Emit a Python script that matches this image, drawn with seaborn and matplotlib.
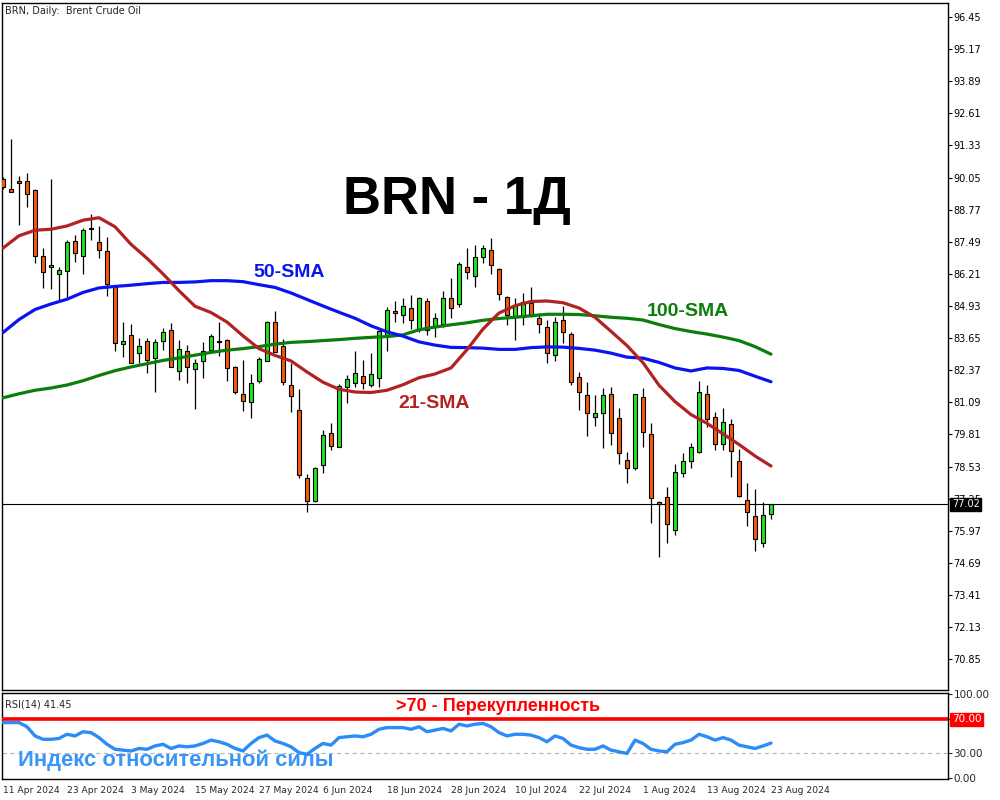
import matplotlib
matplotlib.use("Agg")
import matplotlib.pyplot as plt
import matplotlib.transforms as mtransforms
import numpy as np
import seaborn as sns

# ---- Brent daily OHLC, 11 Apr 2024 .. 23 Aug 2024 (one entry per session) ----
opens = [89.99, 89.58, 89.91, 89.91, 89.54, 86.91, 86.47, 86.22, 86.31, 87.51,
         86.91, 88.02, 87.47, 87.11, 85.70, 83.40, 83.76, 83.04, 83.52, 82.84,
         83.52, 83.96, 82.32, 83.12, 82.40, 82.72, 83.16, 83.53, 83.56, 82.48,
         81.41, 81.09, 81.95, 82.75, 84.28, 83.33, 81.77, 80.77, 78.06, 77.16,
         78.58, 79.85, 79.29, 81.71, 81.85, 82.14, 81.78, 82.04, 83.77, 84.73,
         84.57, 84.84, 83.97, 85.14, 84.10, 84.21, 85.23, 85.01, 86.47, 86.14,
         86.87, 87.16, 86.39, 85.27, 84.48, 84.48, 85.06, 84.44, 84.08, 82.96,
         84.37, 83.80, 82.08, 81.38, 80.49, 80.65, 81.42, 80.45, 78.79, 78.46,
         81.29, 79.81, 77.11, 77.30, 75.99, 78.26, 78.75, 79.09, 81.42, 80.49,
         79.43, 80.21, 78.75, 77.18, 76.55, 75.47, 76.62]
highs = [90.07, 91.59, 90.11, 90.24, 89.58, 87.23, 89.98, 86.48, 87.56, 87.75,
         88.03, 88.58, 88.12, 87.68, 85.70, 84.28, 84.20, 83.64, 83.64, 83.60,
         84.06, 84.25, 83.56, 83.36, 82.81, 83.49, 83.80, 84.28, 83.60, 82.52,
         82.77, 82.22, 82.91, 84.34, 84.73, 83.60, 82.67, 81.62, 78.23, 78.52,
         79.98, 80.26, 81.82, 82.18, 83.13, 82.77, 83.07, 83.97, 84.88, 85.13,
         85.23, 85.35, 85.30, 85.23, 84.64, 85.53, 86.06, 86.69, 87.23, 87.36,
         87.36, 87.63, 86.45, 85.33, 85.23, 85.46, 85.67, 84.66, 84.37, 84.48,
         84.93, 83.90, 82.31, 81.91, 81.38, 81.65, 81.71, 80.85, 79.12, 81.42,
         81.65, 80.27, 77.16, 77.72, 78.62, 79.05, 79.45, 81.94, 81.78, 80.71,
         80.85, 80.41, 79.21, 77.86, 77.62, 77.10, 77.05]
lows = [89.59, 89.47, 88.16, 88.89, 86.65, 85.66, 85.62, 85.13, 85.23, 86.68,
        86.22, 87.57, 86.85, 85.34, 83.14, 82.91, 82.64, 82.64, 82.24, 81.51,
        83.17, 82.48, 81.99, 81.85, 80.83, 82.04, 83.04, 82.95, 81.95, 81.43,
        80.75, 80.45, 81.87, 82.75, 83.11, 81.79, 80.71, 78.06, 76.73, 77.12,
        78.28, 79.20, 79.29, 81.05, 81.69, 81.61, 81.71, 81.69, 83.14, 84.30,
        84.26, 84.01, 83.90, 83.77, 83.68, 84.10, 84.44, 84.88, 85.99, 85.67,
        86.63, 86.19, 85.17, 84.17, 83.57, 84.17, 84.48, 83.86, 82.67, 82.75,
        83.44, 81.78, 80.78, 79.74, 80.14, 79.25, 79.38, 78.63, 77.88, 78.39,
        79.32, 76.29, 74.91, 75.47, 75.80, 78.10, 78.46, 79.05, 80.11, 79.19,
        79.19, 78.12, 77.33, 76.17, 75.17, 75.31, 76.42]
closes = [89.67, 89.48, 89.82, 89.38, 86.91, 86.27, 86.56, 86.35, 87.47, 87.03,
          87.96, 88.00, 87.17, 85.82, 83.44, 83.53, 82.67, 83.32, 82.79, 83.48,
          83.88, 82.48, 83.20, 82.48, 82.64, 83.12, 83.72, 83.49, 82.44, 81.49,
          81.13, 81.85, 82.80, 84.28, 83.11, 81.91, 81.35, 78.18, 77.16, 78.46,
          79.77, 79.33, 81.75, 82.00, 82.24, 81.87, 82.20, 83.93, 84.76, 84.64,
          84.94, 84.37, 85.23, 83.97, 84.44, 85.23, 84.84, 86.59, 86.30, 86.87,
          87.23, 86.56, 85.39, 84.57, 84.93, 85.07, 84.53, 84.21, 83.07, 84.30,
          83.88, 81.89, 81.51, 80.67, 80.65, 81.38, 79.85, 79.05, 78.48, 81.42,
          79.92, 77.26, 77.03, 76.22, 78.30, 78.75, 79.32, 81.49, 80.41, 79.43,
          80.31, 79.15, 77.36, 76.70, 75.63, 76.59, 77.02]

# ---- moving averages, sampled every second session ----
sma_step = 2
sma21 = [87.24, 87.73, 87.95, 87.99, 88.12, 88.35, 88.45, 88.09, 87.39, 86.83,
         86.21, 85.54, 84.92, 84.67, 84.29, 83.74, 83.23, 82.96, 82.74, 82.30,
         81.89, 81.61, 81.50, 81.48, 81.57, 81.79, 82.07, 82.22, 82.46, 83.19,
         84.01, 84.65, 84.94, 85.11, 85.13, 85.06, 84.85, 84.48, 83.92, 83.35,
         82.67, 81.77, 81.12, 80.60, 80.25, 79.83, 79.41, 78.95, 78.55]
sma50 = [83.87, 84.39, 84.79, 85.01, 85.20, 85.47, 85.65, 85.71, 85.76, 85.82,
         85.87, 85.87, 85.89, 85.94, 85.94, 85.90, 85.78, 85.67, 85.45, 85.19,
         84.93, 84.68, 84.44, 84.14, 83.90, 83.73, 83.50, 83.37, 83.28, 83.27,
         83.25, 83.20, 83.20, 83.27, 83.30, 83.29, 83.24, 83.17, 83.05, 82.89,
         82.85, 82.68, 82.46, 82.34, 82.46, 82.44, 82.36, 82.13, 81.91]
sma100 = [81.27, 81.43, 81.57, 81.66, 81.78, 81.95, 82.16, 82.35, 82.50, 82.63,
          82.76, 82.86, 82.97, 83.08, 83.17, 83.23, 83.31, 83.41, 83.48, 83.51,
          83.55, 83.59, 83.64, 83.68, 83.71, 83.78, 83.98, 84.09, 84.18, 84.26,
          84.36, 84.43, 84.48, 84.54, 84.60, 84.60, 84.59, 84.54, 84.48, 84.44,
          84.37, 84.19, 84.03, 83.91, 83.81, 83.69, 83.55, 83.31, 83.01]

# ---- RSI(14), one value per session ----
rsi = [66, 66, 66, 61, 50, 46, 46, 47, 52, 50,
       55, 54, 48, 40, 34, 33, 32, 35, 34, 38,
       40, 35, 38, 37, 38, 41, 45, 43, 40, 35,
       32, 41, 48, 51, 44, 41, 37, 30, 28, 35,
       41, 39, 48, 49, 50, 49, 52, 58, 60, 60,
       60, 58, 61, 55, 57, 59, 56, 64, 62, 64,
       65, 61, 54, 50, 52, 52, 51, 48, 43, 50,
       47, 39, 36, 34, 34, 38, 33, 31, 29, 45,
       41, 34, 32, 31, 40, 42, 45, 52, 49, 45,
       48, 45, 39, 37, 35, 38, 41.45]

date_labels = ["11 Apr 2024", "23 Apr 2024", "3 May 2024", "15 May 2024",
               "27 May 2024", "6 Jun 2024", "18 Jun 2024", "28 Jun 2024",
               "10 Jul 2024", "22 Jul 2024", "1 Aug 2024", "13 Aug 2024",
               "23 Aug 2024"]
price_ticks = [96.45, 95.17, 93.89, 92.61, 91.33, 90.05, 88.77, 87.49, 86.21,
               84.93, 83.65, 82.37, 81.09, 79.81, 78.53, 77.25, 75.97, 74.69,
               73.41, 72.13, 70.85]
rsi_ticks = [0, 30, 100]
last_price = 77.02
rsi_last = 41.45
overbought = 70
oversold = 30

# ---- styling ----
sns.set_style("white")
plt.rcParams["font.family"] = ["DejaVu Sans"]
BULL = "#1fe61f"
BEAR = "#f75a08"
C21 = "#b22222"
C50 = "#0a14f0"
C100 = "#0b7d0b"
BOLD = ["Liberation Sans", "DejaVu Sans"]

fig = plt.figure(figsize=(10, 8), dpi=100)
ax = fig.add_axes([0.002, 0.1375, 0.946, 0.85875])
ax_rsi = fig.add_axes([0.002, 0.02625, 0.946, 0.10713], sharex=ax)

n = len(opens)
idx = np.arange(n)
o = np.array(opens)
c = np.array(closes)
h = np.array(highs)
l = np.array(lows)

# wicks, then bodies
ax.vlines(idx, l, h, color="black", lw=0.9, zorder=2)
up = c >= o
body_lo = np.minimum(o, c)
body_h = np.maximum(np.abs(c - o), 0.02)
colors = np.where(up, BULL, BEAR)
ax.bar(idx, body_h, bottom=body_lo, width=0.6, color=colors,
       edgecolor="black", linewidth=0.8, zorder=3)

# moving averages
sma_x = np.arange(len(sma21)) * sma_step
for vals, col in ((sma100, C100), (sma50, C50), (sma21, C21)):
    sns.lineplot(x=sma_x, y=vals, ax=ax, color=col, lw=2.3, zorder=4,
                 legend=False)

# last price line and marker
ax.axhline(last_price, color="black", lw=0.8, zorder=1)
trans = mtransforms.blended_transform_factory(ax.transAxes, ax.transData)
ax.text(1.004, last_price, f"{last_price:.2f}", transform=trans, ha="left",
        va="center", color="white", fontsize=7, zorder=10,
        bbox=dict(boxstyle="square,pad=0.15", fc="black", ec="black"))

ax.set_xlim(-0.125, 118.125)
ax.set_ylim(69.62, 97.01)
ax.yaxis.tick_right()
ax.set_yticks(price_ticks)
ax.set_yticklabels([f"{v:.2f}" for v in price_ticks])
ax.tick_params(axis="y", direction="out", length=3, width=0.8, pad=1,
               labelsize=7, colors="black")
ax.tick_params(axis="x", bottom=False, labelbottom=False)
ax.set_xlabel("")
ax.set_ylabel("")
for s in ax.spines.values():
    s.set_color("black")
    s.set_linewidth(1.0)

ax.text(0.003, 0.995, "BRN, Daily:  Brent Crude Oil", transform=ax.transAxes,
        ha="left", va="top", fontsize=7)
ax.text(56.75, 89.15, "BRN - 1Д", ha="center", va="center", fontsize=38,
        fontweight="bold", family=BOLD, color="black")
ax.text(35.75, 86.28, "50-SMA", ha="center", va="center", fontsize=14,
        fontweight="bold", family=BOLD, color=C50)
ax.text(53.9, 81.06, "21-SMA", ha="center", va="center", fontsize=14,
        fontweight="bold", family=BOLD, color=C21)
ax.text(85.6, 84.73, "100-SMA", ha="center", va="center", fontsize=14,
        fontweight="bold", family=BOLD, color=C100)

# ---- RSI panel ----
sns.lineplot(x=idx, y=rsi, ax=ax_rsi, color="#2b8cf5", lw=2.4, zorder=4,
             legend=False)
ax_rsi.axhline(overbought, color="#ff0000", lw=2.6, zorder=3)
ax_rsi.axhline(oversold, color="#b4b4b4", lw=0.8, ls=(0, (4, 3)), zorder=2)
ax_rsi.set_ylim(-1.6, 101.1)
ax_rsi.yaxis.tick_right()
ax_rsi.set_yticks(rsi_ticks + [overbought])
ax_rsi.set_yticklabels([f"{v:.2f}" for v in rsi_ticks] + [""])
ax_rsi.tick_params(axis="y", direction="out", length=3, width=0.8, pad=1,
                   labelsize=7.5)
trans_r = mtransforms.blended_transform_factory(ax_rsi.transAxes, ax_rsi.transData)
ax_rsi.text(1.004, overbought, f"{overbought:.2f}", transform=trans_r,
            ha="left", va="center", color="white", fontsize=7.5, zorder=10,
            bbox=dict(boxstyle="square,pad=0.15", fc="#ff0000", ec="#ff0000"))

ax_rsi.set_xticks(np.arange(0, n, 8))
ax_rsi.set_xticklabels(date_labels, ha="left")
ax_rsi.tick_params(axis="x", direction="out", length=4, width=0.8, pad=1,
                   labelsize=6.6)
ax_rsi.set_xlabel("")
ax_rsi.set_ylabel("")
for s in ax_rsi.spines.values():
    s.set_color("black")
    s.set_linewidth(1.0)

ax_rsi.text(0.003, 0.93, f"RSI(14) {rsi_last:.2f}", transform=ax_rsi.transAxes,
            ha="left", va="top", fontsize=7)
ax_rsi.text(61.9, 84.7, ">70 - Перекупленность", ha="center", va="center",
            fontsize=13, fontweight="bold", family=BOLD, color="#ff0000")
ax_rsi.text(1.875, 21.2, "Индекс относительной силы", ha="left", va="center",
            fontsize=15.8, fontweight="bold", family=BOLD, color="#3a95f5")

fig.savefig("out.png", dpi=100)
